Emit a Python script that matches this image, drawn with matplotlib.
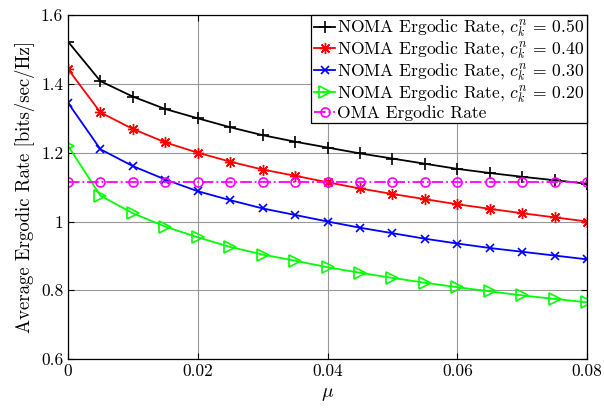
import numpy as np
import matplotlib
matplotlib.use("Agg")
import matplotlib.pyplot as plt

# 横軸 mu と各系列の値
mu = np.arange(0, 0.0801, 0.005)
noma_050 = [1.523, 1.408, 1.363, 1.327, 1.300, 1.274, 1.251, 1.232, 1.215,
            1.198, 1.183, 1.168, 1.153, 1.141, 1.130, 1.120, 1.110]
noma_040 = [1.443, 1.317, 1.269, 1.230, 1.200, 1.174, 1.151, 1.133, 1.114,
            1.096, 1.080, 1.065, 1.050, 1.037, 1.024, 1.012, 1.000]
noma_030 = [1.345, 1.210, 1.161, 1.122, 1.088, 1.062, 1.038, 1.019, 1.000,
            0.982, 0.966, 0.950, 0.936, 0.923, 0.912, 0.901, 0.890]
noma_020 = [1.220, 1.075, 1.024, 0.985, 0.954, 0.926, 0.904, 0.886, 0.867,
            0.851, 0.836, 0.822, 0.809, 0.797, 0.785, 0.775, 0.765]
oma = [1.115] * len(mu)

labels = [r"NOMA Ergodic Rate, $c_k^n\,=\,0.50$",
          r"NOMA Ergodic Rate, $c_k^n\,=\,0.40$",
          r"NOMA Ergodic Rate, $c_k^n\,=\,0.30$",
          r"NOMA Ergodic Rate, $c_k^n\,=\,0.20$",
          "OMA Ergodic Rate"]

plt.rcParams.update({
    'font.family': 'serif',
    'font.serif': ['cmr10'],
    'mathtext.fontset': 'cm',
    'axes.formatter.use_mathtext': True,
    'axes.unicode_minus': False,
})

fig = plt.figure(figsize=(6.04, 4.2), dpi=100)
ax = fig.add_axes([0.1126, 0.145, 0.8594, 0.819])

lw = 1.3
ax.plot(mu, noma_050, color='black', marker='+', ms=9, mew=1.2, lw=lw, label=labels[0])
ax.plot(mu, noma_040, color='red', marker=(8, 2, 0), ms=8, mew=1.0, lw=lw, label=labels[1])
ax.plot(mu, noma_030, color='blue', marker='x', ms=6, mew=1.2, lw=lw, label=labels[2])
ax.plot(mu, noma_020, color='#00ff00', marker='>', ms=8, mew=1.2, mfc='none', lw=lw, label=labels[3])
ax.plot(mu, oma, color='magenta', marker='o', ms=6.5, mew=1.2, mfc='none', lw=lw,
        ls='-.', label=labels[4])

ax.set_xlim(0, 0.08)
ax.set_ylim(0.6, 1.6)
ax.set_xticks([0, 0.02, 0.04, 0.06, 0.08])
ax.set_xticklabels(['0', '0.02', '0.04', '0.06', '0.08'])
ax.set_yticks([0.6, 0.8, 1.0, 1.2, 1.4, 1.6])
ax.set_yticklabels(['0.6', '0.8', '1', '1.2', '1.4', '1.6'])
ax.tick_params(direction='in', top=True, right=True, labelsize=12.5, length=4)
ax.grid(True, color='0.6', lw=0.8)
for s in ax.spines.values():
    s.set_linewidth(0.9)

ax.set_xlabel(r"$\mu$", fontsize=14)
ax.set_ylabel("Average Ergodic Rate [bits/sec/Hz]", fontsize=13.5)

leg = ax.legend(loc='upper right', fontsize=12.6, borderaxespad=0, handlelength=1.25,
                handletextpad=0.1, labelspacing=0.02, borderpad=0.15, fancybox=False,
                framealpha=1, edgecolor='black')
leg.get_frame().set_linewidth(0.9)

fig.savefig("out.png", dpi=100)
